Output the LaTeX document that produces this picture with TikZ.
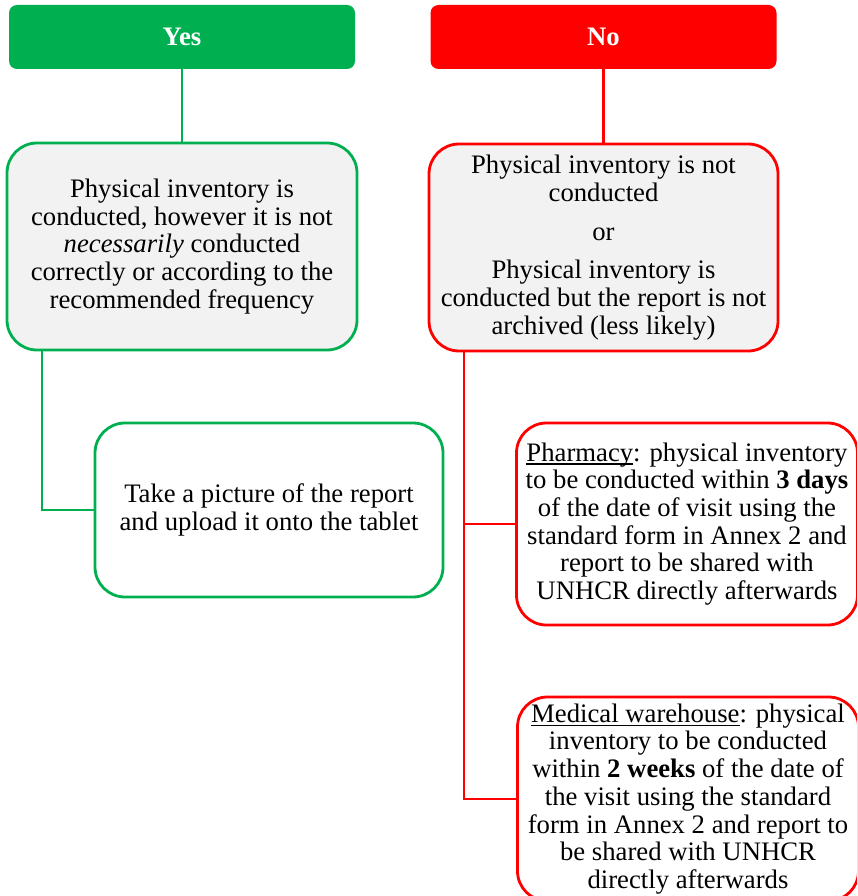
\documentclass[tikz,border=0pt]{standalone}
\usepackage{fontspec}
\setmainfont{Liberation Serif}
\definecolor{okgreen}{HTML}{00B050}
\definecolor{nored}{HTML}{FF0000}
\definecolor{panel}{HTML}{F2F2F2}
\newcommand{\cardfont}{\fontsize{26.7}{27.7}\selectfont}
% underline drawn just below the baseline
\newsavebox{\ulbox}
\newcommand{\ulword}[1]{\sbox{\ulbox}{#1}\rlap{\rule[-3.5pt]{\wd\ulbox}{1.2pt}}\usebox{\ulbox}}
\begin{document}
\begin{tikzpicture}[x=1pt,y=-1pt,
  every node/.style={font=\cardfont, align=center, inner sep=0pt},
  header/.style={rounded corners=8pt, minimum height=64pt, minimum width=346pt,
    text=white, font=\cardfont\bfseries},
  card/.style={rounded corners=30pt, line width=2.8pt},
  gline/.style={draw=okgreen, line width=2.8pt},
  rline/.style={draw=nored, line width=2.8pt}]
  \useasboundingbox (0,0) rectangle (857,896);
  \clip (0,0) rectangle (857,896);

  % decision headers
  \node[header, fill=okgreen] (yes) at (182,37) {Yes};
  \node[header, fill=nored] (no) at (603.5,37) {No};

  % first-level outcomes
  \node[card, draw=okgreen, fill=panel, minimum width=350pt, minimum height=207pt]
    (g1) at (182,246.5)
    {Physical inventory is\\ conducted, however it is not\\ \textit{necessarily} conducted\\
     correctly or according to the\\ recommended frequency};
  \node[card, draw=nored, fill=panel, minimum width=349pt, minimum height=207pt]
    (r1) at (603.5,247.5)
    {Physical inventory is not\\ conducted\\[11pt] or\\[11pt] Physical inventory is\\
     conducted but the report is not\\ archived (less likely)};

  % follow-up actions
  \node[card, draw=okgreen, fill=white, minimum width=348pt, minimum height=174pt]
    (g2) at (269,510)
    {Take a picture of the report\\ and upload it onto the tablet};
  \node[card, draw=nored, fill=white, minimum width=341pt, minimum height=202pt]
    (pharm) at (687,524)
    {\ulword{Pharmacy}: physical inventory\\ to be conducted within \textbf{3 days}\\
     of the date of visit using the\\ standard form in Annex 2 and\\
     report to be shared with\\ UNHCR directly afterwards};
  \node[card, draw=nored, fill=white, minimum width=341pt, minimum height=204pt]
    (med) at (688,799)
    {\ulword{Medical warehouse}: physical\\ inventory to be conducted\\
     within \textbf{2 weeks} of the date of\\ the visit using the standard\\
     form in Annex 2 and report to\\ be shared with UNHCR\\ directly afterwards};

  % connectors
  \coordinate (gx) at (42,0);
  \coordinate (rx) at (464,0);
  \draw[gline] (yes.south) -- (g1.north);
  \draw[rline] (no.south) -- (r1.north);
  \draw[gline] (g1.south -| gx) |- (g2.west);
  \draw[rline] (r1.south -| rx) |- (pharm.west);
  \draw[rline] (r1.south -| rx) |- (med.west);
\end{tikzpicture}
\end{document}
